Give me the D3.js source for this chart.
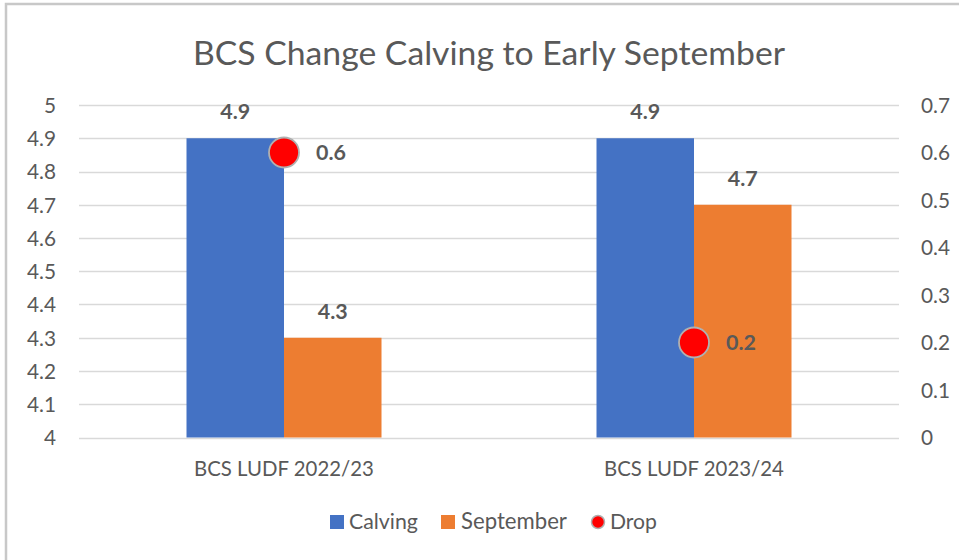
<!DOCTYPE html>
<html><head><meta charset="utf-8">
<script src="https://cdn.jsdelivr.net/npm/d3@7"></script>
<style>
html,body{margin:0;padding:0;background:#fff;}
svg{display:block;}
text{font-family:Lato,"Open Sans",sans-serif;}
</style></head>
<body><svg id="c" width="959" height="560"></svg>
<script>
const categories = ["BCS LUDF 2022/23", "BCS LUDF 2023/24"];
const calving = [4.9, 4.9];
const september = [4.3, 4.7];
const drop = [0.6, 0.2];
const leftTicks = [4, 4.1, 4.2, 4.3, 4.4, 4.5, 4.6, 4.7, 4.8, 4.9, 5];
const rightTicks = [0, 0.1, 0.2, 0.3, 0.4, 0.5, 0.6, 0.7];
const title = "BCS Change Calving to Early September";
const seriesNames = ["Calving", "September", "Drop"];

const svg = d3.select("#c");
const txt = "#595959";
svg.append("path").attr("d","M6,560 V4 H959").attr("fill","none").attr("stroke","#c8c8c8").attr("stroke-width",2.5);

const L = 79, R = 899, T = 105, B = 437.5;
const x0 = d3.scaleBand().domain(categories).range([L, R]);
const y = d3.scaleLinear().domain([4, 5]).range([B, T]);
const y2 = d3.scaleLinear().domain([0, 0.7]).range([B, T]);

function fit(sel, w){
  const node = sel.node();
  const fs = parseFloat(sel.attr("font-size"));
  const len = node.getComputedTextLength();
  sel.attr("font-size", fs * w / len);
}
// measure a font size so that sample text has width w
function sizeFor(sample, w, weight){
  const t = svg.append("text").attr("font-size", 20).attr("font-weight", weight || "normal").text(sample);
  const s = 20 * w / t.node().getComputedTextLength();
  t.remove();
  return s;
}
const tickFs = sizeFor("4.9", 29);
const labFs = sizeFor("4.9", 30, "bold");

svg.append("g").selectAll("line").data(leftTicks).join("line")
  .attr("x1", L).attr("x2", R).attr("y1", d => Math.round(y(d)) + 0.5).attr("y2", d => Math.round(y(d)) + 0.5)
  .attr("stroke", "#d9d9d9").attr("stroke-width", 1.3);

const ax = d3.axisLeft(y).tickValues(leftTicks).tickSize(0).tickPadding(0).tickFormat(d3.format("~g"));
const gl = svg.append("g").attr("transform", `translate(56,0)`).call(ax);
gl.select(".domain").remove();
gl.selectAll("text").attr("fill", txt).attr("font-size", tickFs).attr("font-family","Lato").attr("dy","0.35em");

const ax2 = d3.axisRight(y2).tickValues(rightTicks).tickSize(0).tickPadding(0).tickFormat(d3.format("~g"));
const gr = svg.append("g").attr("transform", `translate(921,0)`).call(ax2);
gr.select(".domain").remove();
gr.selectAll("text").attr("fill", txt).attr("font-size", tickFs).attr("font-family","Lato").attr("dy","0.35em");

const bw = 97.5;
const g = svg.append("g");
categories.forEach((c, i) => {
  const cx = x0(c) + x0.bandwidth() / 2;
  g.append("rect").attr("x", cx - bw).attr("width", bw).attr("y", y(calving[i])).attr("height", B - y(calving[i])).attr("fill", "#4472C4");
  g.append("rect").attr("x", cx).attr("width", bw).attr("y", y(september[i])).attr("height", B - y(september[i])).attr("fill", "#ED7D31");
  g.append("text").attr("x", cx - bw / 2).attr("y", y(calving[i]) - 19).attr("text-anchor", "middle")
    .attr("font-size", labFs).attr("font-weight", "bold").attr("fill", txt).text(d3.format(".1f")(calving[i]));
  g.append("text").attr("x", cx + bw / 2).attr("y", y(september[i]) - 19).attr("text-anchor", "middle")
    .attr("font-size", labFs).attr("font-weight", "bold").attr("fill", txt).text(d3.format(".1f")(september[i]));
});
categories.forEach((c, i) => {
  const cx = x0(c) + x0.bandwidth() / 2;
  g.append("circle").attr("cx", cx).attr("cy", y2(drop[i])).attr("r", 15).attr("fill", "#FF0000").attr("stroke", "#b0b0b0").attr("stroke-width", 1.8);
  g.append("text").attr("x", cx + 32).attr("y", y2(drop[i])).attr("dy", "0.35em")
    .attr("font-size", labFs).attr("font-weight", "bold").attr("fill", txt).text(d3.format(".1f")(drop[i]));
});

categories.forEach(c => {
  const t = svg.append("text").attr("x", x0(c) + x0.bandwidth() / 2).attr("y", 476).attr("text-anchor", "middle")
    .attr("font-size", 20).attr("fill", txt).text(c);
  fit(t, 180);
});

const tt = svg.append("text").attr("x", 489).attr("y", 65).attr("text-anchor", "middle").attr("font-size", 34).attr("fill", txt).text(title);
fit(tt, 592);

const lg = svg.append("g");
const legendItems = [
  {name: seriesNames[0], type: "rect", color: "#4472C4", x: 330, tx: 349, w: 69},
  {name: seriesNames[1], type: "rect", color: "#ED7D31", x: 441, tx: 461, w: 106},
  {name: seriesNames[2], type: "circle", color: "#FF0000", x: 598, tx: 610, w: 47}
];
legendItems.forEach(it => {
  if (it.type === "rect") lg.append("rect").attr("x", it.x).attr("y", 515).attr("width", 14).attr("height", 14).attr("fill", it.color);
  else lg.append("circle").attr("cx", it.x).attr("cy", 522).attr("r", 6.5).attr("fill", it.color).attr("stroke", "#b0b0b0").attr("stroke-width", 1.5);
  const t = lg.append("text").attr("x", it.tx).attr("y", 529).attr("font-size", 19).attr("fill", txt).text(it.name);
  fit(t, it.w);
});
</script></body></html>
